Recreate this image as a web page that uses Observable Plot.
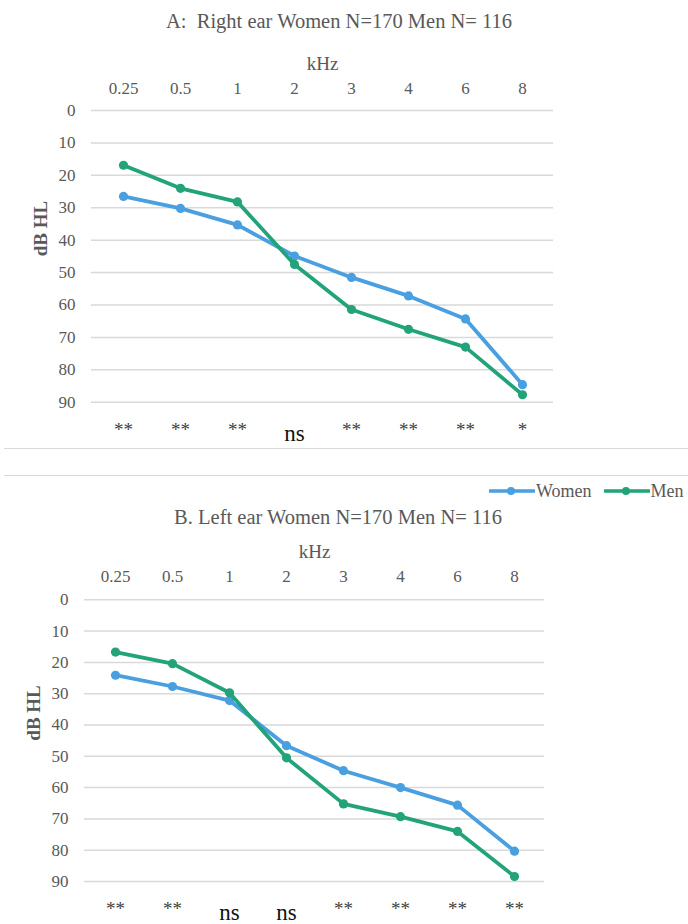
<!DOCTYPE html>
<html>
<head>
<meta charset="utf-8">
<script src="https://cdn.jsdelivr.net/npm/d3@7"></script>
<script src="https://cdn.jsdelivr.net/npm/@observablehq/plot@0.6"></script>
<style>
  html, body { margin: 0; padding: 0; background: #fff; }
  #page { position: relative; width: 688px; height: 924px; overflow: hidden; font-family: "Liberation Serif", "Times New Roman", serif; color: #595959; }
  #page svg, #page svg text { font-family: "Liberation Serif", "Times New Roman", serif !important; }
  .title { position: absolute; left: 0; width: 678px; text-align: center; font-size: 20.5px; line-height: 26px; }
  .sep { position: absolute; left: 4px; width: 684px; height: 0; border-top: 1.5px solid #d9d9d9; }
  .panel { position: absolute; left: 0; }
  .leg { position: absolute; font-size: 18px; line-height: 22px; display: flex; align-items: center; }
</style>
</head>
<body>
<div id="page">
  <div class="title" style="top:8px;">A:&nbsp; Right ear Women N=170 Men N= 116</div>
  <div class="panel" id="panelA" style="top:40px;"></div>
  <div class="sep" style="top:448px;"></div>
  <div class="sep" style="top:475px;"></div>
  <div class="leg" id="legend" style="top:480px; left:489px;"></div>
  <div class="title" style="top:504px; width:676px;">B. Left ear Women N=170 Men N= 116</div>
  <div class="panel" id="panelB" style="top:530px;"></div>
</div>
<script>
// ---- data ----
const freqs = ["0.25", "0.5", "1", "2", "3", "4", "6", "8"];
const yTicks = [0, 10, 20, 30, 40, 50, 60, 70, 80, 90];
const seriesNames = ["Women", "Men"];
const seriesColors = ["#4a9fe0", "#22a37a"];

const rightWomen = [26.5, 30.2, 35.3, 44.9, 51.5, 57.2, 64.3, 84.6];
const rightMen   = [16.9, 24.0, 28.2, 47.5, 61.4, 67.5, 73.0, 87.7];
const leftWomen  = [24.1, 27.7, 32.2, 46.6, 54.6, 60.0, 65.6, 80.3];
const leftMen    = [16.7, 20.4, 29.7, 50.5, 65.2, 69.3, 74.0, 88.4];

const sigRight = ["**", "**", "**", "ns", "**", "**", "**", "*"];
const sigLeft  = ["**", "**", "ns", "ns", "**", "**", "**", "**"];

const FONT = "Liberation Serif, Times New Roman, serif";

function rowsOf(women, men) {
  const rows = [];
  freqs.forEach((f, i) => rows.push({freq: f, sex: "Women", db: women[i]}));
  freqs.forEach((f, i) => rows.push({freq: f, sex: "Men", db: men[i]}));
  return rows;
}

function panel({women, men, sig, height, marginTop, marginBottom, marginLeft, marginRight, sigDy, tickPad, khzDy}) {
  const rows = rowsOf(women, men);
  const sigRows = freqs.map((f, i) => ({freq: f, sig: sig[i]}));
  const seriesMarks = seriesNames.flatMap((s, k) => [
    Plot.line(rows.filter(d => d.sex === s), {x: "freq", y: "db", stroke: seriesColors[k], strokeWidth: 3.8, strokeLinejoin: "round"}),
    Plot.dot(rows.filter(d => d.sex === s), {x: "freq", y: "db", fill: seriesColors[k], r: 4.6})
  ]);
  return Plot.plot({
    width: 688,
    height,
    marginTop, marginBottom, marginLeft, marginRight,
    style: {fontFamily: FONT, fontSize: "17px", color: "#595959", background: "transparent", overflow: "visible"},
    x: {type: "point", domain: freqs, padding: 0.5, axis: "top", label: null, tickSize: 0, tickPadding: tickPad},
    y: {domain: [0, 90], reverse: true, ticks: yTicks, tickSize: 0, tickPadding: 16, label: null},
    marks: [
      Plot.ruleY(yTicks, {stroke: "#d9d9d9", strokeWidth: 1.5}),
      Plot.text(["kHz"], {text: d => d, frameAnchor: "top", lineAnchor: "middle", dy: khzDy, fontSize: 19, fill: "#595959"}),
      Plot.text(["dB HL"], {text: d => d, frameAnchor: "left", rotate: -90, dx: -51, fontSize: 19, fontWeight: "bold", fill: "#595959"}),
      ...seriesMarks,
      Plot.text(sigRows.filter(d => d.sig !== "ns"), {x: "freq", text: "sig", frameAnchor: "bottom", dy: sigDy, fontSize: 19, fill: "#404040"}),
      Plot.text(sigRows.filter(d => d.sig === "ns"), {x: "freq", text: "sig", frameAnchor: "bottom", dy: sigDy + 5, fontSize: 23, fill: "#111"})
    ]
  });
}

document.getElementById("panelA").append(panel({
  women: rightWomen, men: rightMen, sig: sigRight,
  height: 410, marginTop: 70, marginBottom: 48.3, marginLeft: 91, marginRight: 135,
  sigDy: 34, tickPad: 17, khzDy: -47
}));

document.getElementById("panelB").append(panel({
  women: leftWomen, men: leftMen, sig: sigLeft,
  height: 394, marginTop: 69.3, marginBottom: 43, marginLeft: 84, marginRight: 144,
  sigDy: 33, tickPad: 18, khzDy: -47.6
}));

// legend
const leg = document.getElementById("legend");
seriesNames.forEach((s, k) => {
  const item = document.createElement("span");
  item.style.display = "inline-flex";
  item.style.alignItems = "center";
  item.style.marginRight = k === 0 ? "12px" : "0";
  item.innerHTML = `<svg width="46" height="12" style="margin-right:1px"><line x1="1" x2="45" y1="6" y2="6" stroke="${seriesColors[k]}" stroke-width="3.6" stroke-linecap="round"/><circle cx="22" cy="6" r="4" fill="${seriesColors[k]}"/></svg><span>${s}</span>`;
  leg.append(item);
});
</script>
</body>
</html>
